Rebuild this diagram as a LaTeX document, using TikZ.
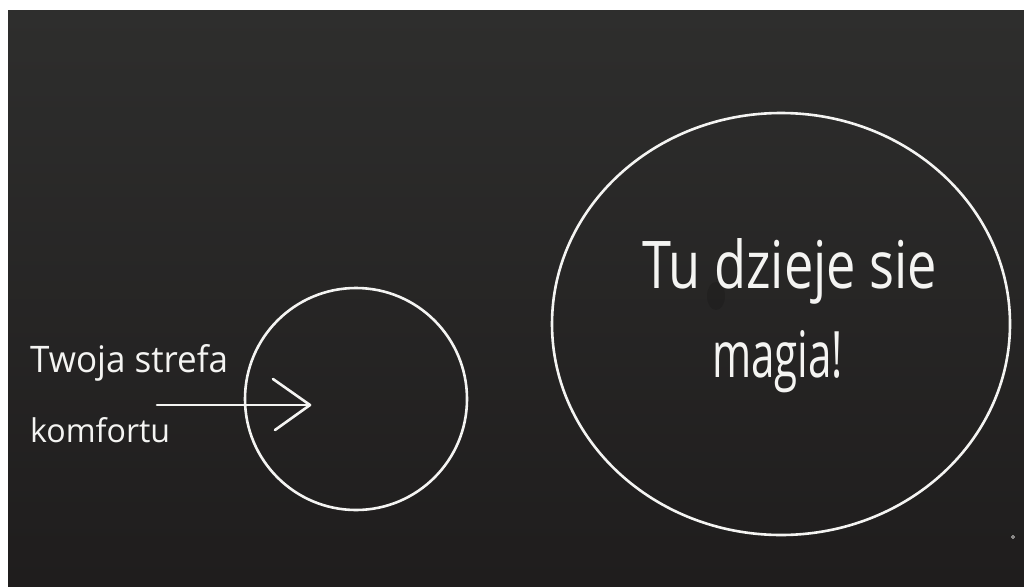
\documentclass[tikz,border=0pt]{standalone}
\usepackage{fontspec}
\usepackage{graphicx}
\setmainfont{Open Sans}
\usetikzlibrary{shapes.geometric}
\definecolor{boardtop}{HTML}{2E2E2D}
\definecolor{boardbot}{HTML}{1F1D1D}
\definecolor{chalk}{HTML}{F4F4F2}
\tikzset{
  chalkline/.style={draw=chalk, line width=2.6pt, line cap=round, line join=round},
  chalktext/.style={text=chalk, inner sep=0pt, anchor=base west, font=\fontsize{40}{40}\selectfont},
}
\begin{document}
\begin{tikzpicture}[x=1pt,y=-1pt]
\useasboundingbox (0,0) rectangle (1024,586);
\fill[white] (0,0) rectangle (1024,586);
\shade[top color=boardtop, bottom color=boardbot] (8,11) rectangle (1024,586);
\fill[black, opacity=0.12] (716,296) ellipse (9pt and 14pt);
% circles
\node[chalkline, circle, minimum size=222pt, inner sep=0pt] (small) at (356,399) {};
\node[chalkline, ellipse, minimum width=458pt, minimum height=422pt, inner sep=0pt] (big) at (781,324) {};
% texts
\node[chalktext] (t1) at (30,372) {\resizebox{198pt}{28pt}{Twoja strefa}};
\node[chalktext] (t2) at (30,442) {\resizebox{140pt}{25pt}{komfortu}};
\node[chalktext] (t3) at (642,288) {\resizebox{295pt}{50pt}{Tu dzieje sie}};
\node[chalktext] (t4) at (712,377) {\resizebox{131pt}{47pt}{magia!}};
% arrow
\coordinate (tail) at (157,405);
\coordinate (head) at (310,405);
\coordinate (armup) at (273,379);
\coordinate (armdn) at (275,430);
\draw[chalkline] (tail) -- (head);
\draw[chalkline] (armup) -- (head) -- (armdn);
% small chalk mark
\node[draw=chalk, circle, line width=0.6pt, minimum size=3pt, inner sep=0pt] (mark) at (1013,537) {};
\end{tikzpicture}
\end{document}
